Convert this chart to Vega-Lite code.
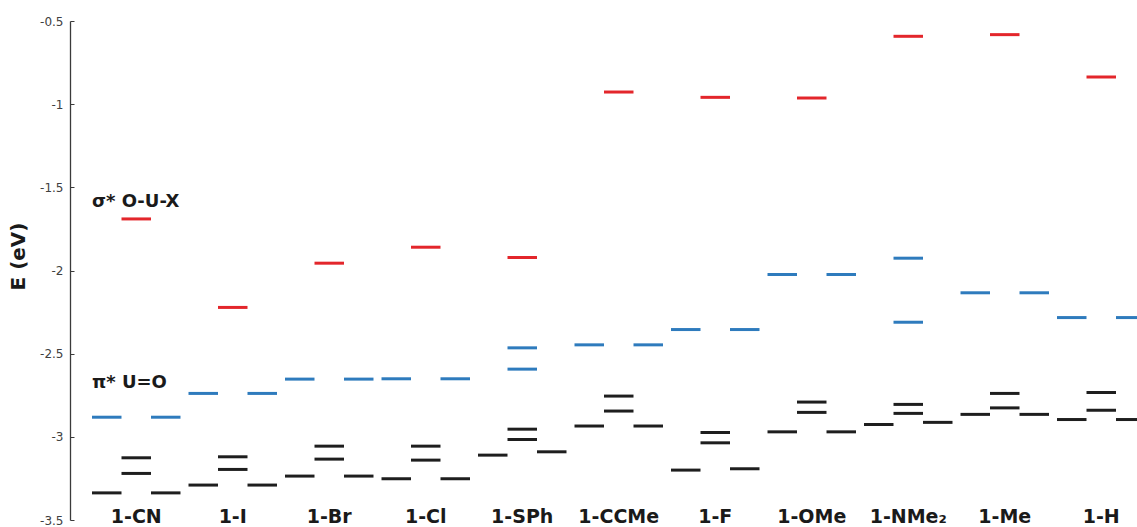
{
  "$schema": "https://vega.github.io/schema/vega-lite/v6.json",
  "width": 1067,
  "height": 499,
  "autosize": {"type": "none"},
  "padding": {"left": 70, "top": 21, "right": 0, "bottom": 7},
  "background": "white",
  "config": {"view": {"stroke": null}, "font": "DejaVu Sans"},
  "datasets": {
    "levels": [
      {"compound": "1-CN", "slot": "C", "orbital": "sigma", "E": -1.69},
      {"compound": "1-CN", "slot": "L", "orbital": "pi", "E": -2.882},
      {"compound": "1-CN", "slot": "R", "orbital": "pi", "E": -2.882},
      {"compound": "1-CN", "slot": "L", "orbital": "other", "E": -3.337},
      {"compound": "1-CN", "slot": "C", "orbital": "other", "E": -3.126},
      {"compound": "1-CN", "slot": "C", "orbital": "other", "E": -3.22},
      {"compound": "1-CN", "slot": "R", "orbital": "other", "E": -3.337},

      {"compound": "1-I", "slot": "C", "orbital": "sigma", "E": -2.222},
      {"compound": "1-I", "slot": "L", "orbital": "pi", "E": -2.739},
      {"compound": "1-I", "slot": "R", "orbital": "pi", "E": -2.739},
      {"compound": "1-I", "slot": "L", "orbital": "other", "E": -3.29},
      {"compound": "1-I", "slot": "C", "orbital": "other", "E": -3.12},
      {"compound": "1-I", "slot": "C", "orbital": "other", "E": -3.196},
      {"compound": "1-I", "slot": "R", "orbital": "other", "E": -3.29},

      {"compound": "1-Br", "slot": "C", "orbital": "sigma", "E": -1.956},
      {"compound": "1-Br", "slot": "L", "orbital": "pi", "E": -2.653},
      {"compound": "1-Br", "slot": "R", "orbital": "pi", "E": -2.653},
      {"compound": "1-Br", "slot": "L", "orbital": "other", "E": -3.236},
      {"compound": "1-Br", "slot": "C", "orbital": "other", "E": -3.056},
      {"compound": "1-Br", "slot": "C", "orbital": "other", "E": -3.134},
      {"compound": "1-Br", "slot": "R", "orbital": "other", "E": -3.236},

      {"compound": "1-Cl", "slot": "C", "orbital": "sigma", "E": -1.86},
      {"compound": "1-Cl", "slot": "L", "orbital": "pi", "E": -2.651},
      {"compound": "1-Cl", "slot": "R", "orbital": "pi", "E": -2.651},
      {"compound": "1-Cl", "slot": "L", "orbital": "other", "E": -3.252},
      {"compound": "1-Cl", "slot": "C", "orbital": "other", "E": -3.056},
      {"compound": "1-Cl", "slot": "C", "orbital": "other", "E": -3.14},
      {"compound": "1-Cl", "slot": "R", "orbital": "other", "E": -3.252},

      {"compound": "1-SPh", "slot": "C", "orbital": "sigma", "E": -1.922},
      {"compound": "1-SPh", "slot": "C", "orbital": "pi", "E": -2.465},
      {"compound": "1-SPh", "slot": "C", "orbital": "pi", "E": -2.593},
      {"compound": "1-SPh", "slot": "L", "orbital": "other", "E": -3.11},
      {"compound": "1-SPh", "slot": "C", "orbital": "other", "E": -2.954},
      {"compound": "1-SPh", "slot": "C", "orbital": "other", "E": -3.016},
      {"compound": "1-SPh", "slot": "R", "orbital": "other", "E": -3.09},

      {"compound": "1-CCMe", "slot": "C", "orbital": "sigma", "E": -0.927},
      {"compound": "1-CCMe", "slot": "L", "orbital": "pi", "E": -2.447},
      {"compound": "1-CCMe", "slot": "R", "orbital": "pi", "E": -2.447},
      {"compound": "1-CCMe", "slot": "L", "orbital": "other", "E": -2.935},
      {"compound": "1-CCMe", "slot": "C", "orbital": "other", "E": -2.755},
      {"compound": "1-CCMe", "slot": "C", "orbital": "other", "E": -2.845},
      {"compound": "1-CCMe", "slot": "R", "orbital": "other", "E": -2.935},

      {"compound": "1-F", "slot": "C", "orbital": "sigma", "E": -0.959},
      {"compound": "1-F", "slot": "L", "orbital": "pi", "E": -2.355},
      {"compound": "1-F", "slot": "R", "orbital": "pi", "E": -2.355},
      {"compound": "1-F", "slot": "L", "orbital": "other", "E": -3.2},
      {"compound": "1-F", "slot": "C", "orbital": "other", "E": -2.974},
      {"compound": "1-F", "slot": "C", "orbital": "other", "E": -3.036},
      {"compound": "1-F", "slot": "R", "orbital": "other", "E": -3.192},

      {"compound": "1-OMe", "slot": "C", "orbital": "sigma", "E": -0.963},
      {"compound": "1-OMe", "slot": "L", "orbital": "pi", "E": -2.024},
      {"compound": "1-OMe", "slot": "R", "orbital": "pi", "E": -2.024},
      {"compound": "1-OMe", "slot": "L", "orbital": "other", "E": -2.97},
      {"compound": "1-OMe", "slot": "C", "orbital": "other", "E": -2.791},
      {"compound": "1-OMe", "slot": "C", "orbital": "other", "E": -2.853},
      {"compound": "1-OMe", "slot": "R", "orbital": "other", "E": -2.97},

      {"compound": "1-NMe₂", "slot": "C", "orbital": "sigma", "E": -0.592},
      {"compound": "1-NMe₂", "slot": "C", "orbital": "pi", "E": -1.926},
      {"compound": "1-NMe₂", "slot": "C", "orbital": "pi", "E": -2.311},
      {"compound": "1-NMe₂", "slot": "L", "orbital": "other", "E": -2.926},
      {"compound": "1-NMe₂", "slot": "C", "orbital": "other", "E": -2.805},
      {"compound": "1-NMe₂", "slot": "C", "orbital": "other", "E": -2.859},
      {"compound": "1-NMe₂", "slot": "R", "orbital": "other", "E": -2.913},

      {"compound": "1-Me", "slot": "C", "orbital": "sigma", "E": -0.582},
      {"compound": "1-Me", "slot": "L", "orbital": "pi", "E": -2.134},
      {"compound": "1-Me", "slot": "R", "orbital": "pi", "E": -2.134},
      {"compound": "1-Me", "slot": "L", "orbital": "other", "E": -2.865},
      {"compound": "1-Me", "slot": "C", "orbital": "other", "E": -2.739},
      {"compound": "1-Me", "slot": "C", "orbital": "other", "E": -2.826},
      {"compound": "1-Me", "slot": "R", "orbital": "other", "E": -2.865},

      {"compound": "1-H", "slot": "C", "orbital": "sigma", "E": -0.837},
      {"compound": "1-H", "slot": "L", "orbital": "pi", "E": -2.283},
      {"compound": "1-H", "slot": "R", "orbital": "pi", "E": -2.283},
      {"compound": "1-H", "slot": "L", "orbital": "other", "E": -2.896},
      {"compound": "1-H", "slot": "C", "orbital": "other", "E": -2.733},
      {"compound": "1-H", "slot": "C", "orbital": "other", "E": -2.84},
      {"compound": "1-H", "slot": "R", "orbital": "other", "E": -2.896}
    ],
    "notes": [
      {"compound": "1-CN", "E": -1.62, "label": "σ* O-U-X"},
      {"compound": "1-CN", "E": -2.707, "label": "π* U=O"}
    ]
  },
  "layer": [
    {
      "data": {"name": "levels"},
      "mark": {"type": "rect", "height": 3, "clip": true},
      "encoding": {
        "x": {
          "field": "compound",
          "type": "nominal",
          "sort": null,
          "scale": {
            "type": "band",
            "domain": ["1-CN", "1-I", "1-Br", "1-Cl", "1-SPh", "1-CCMe", "1-F", "1-OMe", "1-NMe₂", "1-Me", "1-H"],
            "range": [22, 1075.5],
            "paddingInner": 0.083,
            "paddingOuter": 0
          },
          "axis": {
            "title": null,
            "orient": "bottom",
            "domain": false,
            "ticks": false,
            "tickSize": 0,
            "labelAngle": 0,
            "labelFont": "DejaVu Sans",
            "labelFontSize": 19,
            "labelFontWeight": "bold",
            "labelColor": "#1a1a1a",
            "labelBaseline": "alphabetic",
            "labelPadding": 2,
            "labelOverlap": false,
            "labelBound": false,
            "labelLimit": 0
          }
        },
        "xOffset": {
          "field": "slot",
          "type": "nominal",
          "scale": {"domain": ["L", "C", "R"], "paddingInner": 0, "paddingOuter": 0}
        },
        "y": {
          "field": "E",
          "type": "quantitative",
          "scale": {"domain": [-3.5, -0.5], "nice": false, "zero": false},
          "axis": {
            "title": "E (eV)",
            "values": [-3.5, -3, -2.5, -2, -1.5, -1, -0.5],
            "labelExpr": "'' + datum.value",
            "grid": false,
            "domainColor": "#3a3a3a",
            "domainWidth": 1.3,
            "tickColor": "#3a3a3a",
            "tickSize": -4,
            "labelFont": "DejaVu Sans",
            "labelFontSize": 12,
            "labelColor": "#404040",
            "labelPadding": 11,
            "titleFont": "DejaVu Sans",
            "titleFontSize": 20,
            "titleFontWeight": "bold",
            "titleColor": "#1a1a1a",
            "titleAngle": 270,
            "titleX": -52,
            "titleY": 235,
            "titleAlign": "center",
            "titleBaseline": "middle"
          }
        },
        "color": {
          "field": "orbital",
          "type": "nominal",
          "scale": {"domain": ["sigma", "pi", "other"], "range": ["#e3262b", "#2e7bbd", "#1e1e1e"]},
          "legend": null
        }
      }
    },
    {
      "data": {"name": "notes"},
      "mark": {"type": "text", "align": "left", "baseline": "alphabetic", "font": "DejaVu Sans", "fontSize": 18, "fontWeight": "bold", "color": "#1a1a1a"},
      "encoding": {
        "x": {"field": "compound", "type": "nominal", "bandPosition": 0},
        "y": {"field": "E", "type": "quantitative"},
        "text": {"field": "label", "type": "nominal"}
      }
    }
  ]
}
